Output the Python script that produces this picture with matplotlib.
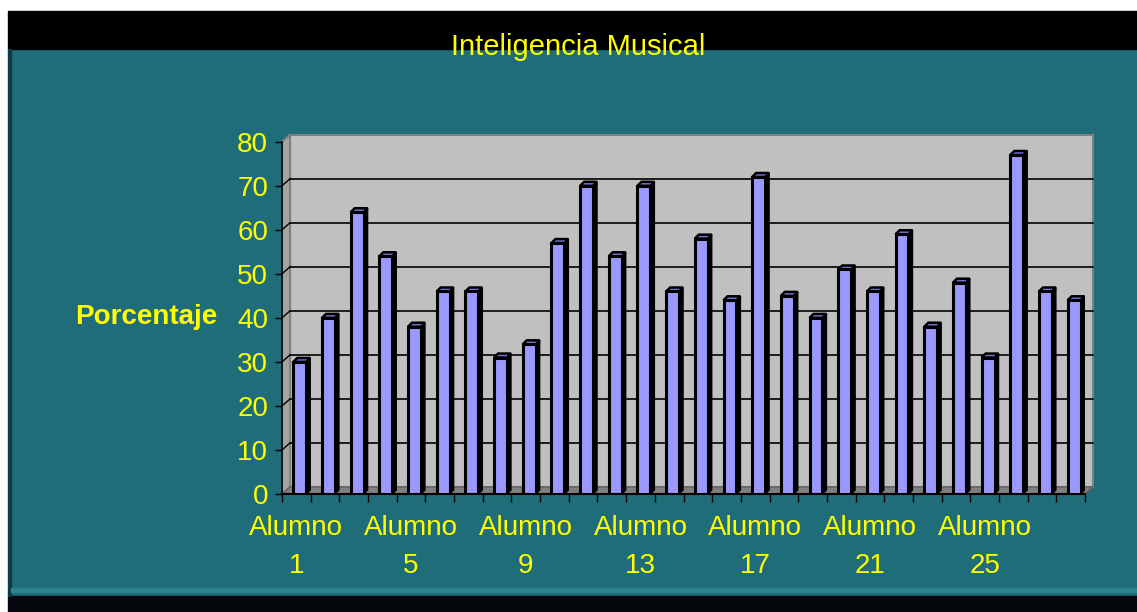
import numpy as np
import matplotlib
matplotlib.use('Agg')
import matplotlib.pyplot as plt
from matplotlib.patches import Rectangle, Polygon

plt.rcParams['font.family'] = ['Liberation Sans', 'DejaVu Sans']

# data
alumnos = ['Alumno\n%d' % i for i in range(1, 29)]
porcentaje = [30, 40, 64, 54, 38, 46, 46, 31, 34, 57, 70, 54, 70, 46,
              58, 44, 72, 45, 40, 51, 46, 59, 38, 48, 31, 77, 46, 44]
yticks = [0, 10, 20, 30, 40, 50, 60, 70, 80]

W, H = 1137, 612
fig = plt.figure(figsize=(W / 100, H / 100), dpi=100)
fig.patch.set_facecolor('#206d7a')

def frect(x0, y0, x1, y1, c):
    # rectangle in pixel coords measured from the top left
    fig.patches.append(Rectangle((x0 / W, 1 - y1 / H), (x1 - x0) / W, (y1 - y0) / H,
                                 transform=fig.transFigure, color=c, zorder=-5))

frect(0, 0, W, 11, 'white')
frect(0, 0, 8, H, 'white')
frect(8, 11, W, 49, 'black')
frect(8, 596, W, H, '#05080c')
frect(8, 49, 11, 596, '#0d3a44')
frect(11, 588, W, 592, '#2a8590')

fig.text(578 / W, 1 - 47 / H, 'Inteligencia Musical', color='#ffff00',
         fontsize=21, ha='center', va='center')
fig.text(75 / W, 1 - 317 / H, 'Porcentaje', color='#ffff00', fontsize=20,
         fontweight='bold', ha='left', va='center')

# front of the axes: x 282..1085 px, y 494..140 px
ax = fig.add_axes([282 / W, 1 - 494 / H, 803 / W, 354 / H])
ax.set_xlim(0, 28)
ax.set_ylim(0, 80.4)
ax.patch.set_alpha(0)

n = len(porcentaje)
dx, dy = 0.28, 1.6      # depth of the 3d box
# walls and floor
ax.add_patch(Rectangle((dx, dy), n, 80, facecolor='#c0c0c0', edgecolor='#808080',
                       lw=1.5, clip_on=False, zorder=0))
ax.add_patch(Polygon([(0, 0), (dx, dy), (dx, 80 + dy), (0, 80)], closed=True,
                     facecolor='#a4a4a4', edgecolor='#808080', lw=1.5, clip_on=False, zorder=0))
ax.add_patch(Polygon([(0, 0), (n, 0), (n + dx, dy), (dx, dy)], closed=True,
                     facecolor='#808080', edgecolor='#606060', lw=1, clip_on=False, zorder=0))
for v in yticks[1:-1]:
    ax.plot([dx, n + dx], [v + dy, v + dy], color='black', lw=1.2, zorder=1, clip_on=False)
    ax.plot([0, dx], [v, v + dy], color='black', lw=1, zorder=1, clip_on=False)

# bars with a dark side and a top cap
x = np.arange(n) + 0.62
bw = 0.45
ddx, ddy = 0.14, 0.9
for xi, v in zip(x, porcentaje):
    x1 = xi + bw / 2
    x0 = xi - bw / 2
    ax.fill([x1, x1 + ddx, x1 + ddx, x1], [0, ddy, v + ddy, v], color='black', zorder=2)
    ax.fill([x0, x1, x1 + ddx, x0 + ddx], [v, v, v + ddy, v + ddy],
            facecolor='#7474d8', edgecolor='black', lw=1.8, zorder=3)
ax.bar(x, porcentaje, width=bw, color='#9999ff', edgecolor='black', linewidth=2.2, zorder=4)

for s in ['top', 'right']:
    ax.spines[s].set_visible(False)
ax.spines['left'].set_color('black')
ax.spines['bottom'].set_color('black')
ax.spines['left'].set_linewidth(1.2)
ax.spines['bottom'].set_linewidth(1.5)
ax.spines['left'].set_bounds(0, 80)

ax.set_yticks(yticks)
ax.set_yticklabels([str(v) for v in yticks], color='#ffff00', fontsize=20)
ax.tick_params(axis='y', length=5, width=1, color='black', pad=5)

ax.set_xticks(np.arange(0, n, 4) + 0.5)
ax.set_xticklabels([alumnos[i] for i in range(0, n, 4)], color='#ffff00',
                   fontsize=20, linespacing=1.6)
ax.set_xticks(np.arange(0, n + 1), minor=True)
ax.tick_params(axis='x', which='major', length=0, pad=15)
ax.tick_params(axis='x', which='minor', length=6, width=1, color='black')

fig.savefig('out.png', dpi=100, facecolor=fig.get_facecolor())
